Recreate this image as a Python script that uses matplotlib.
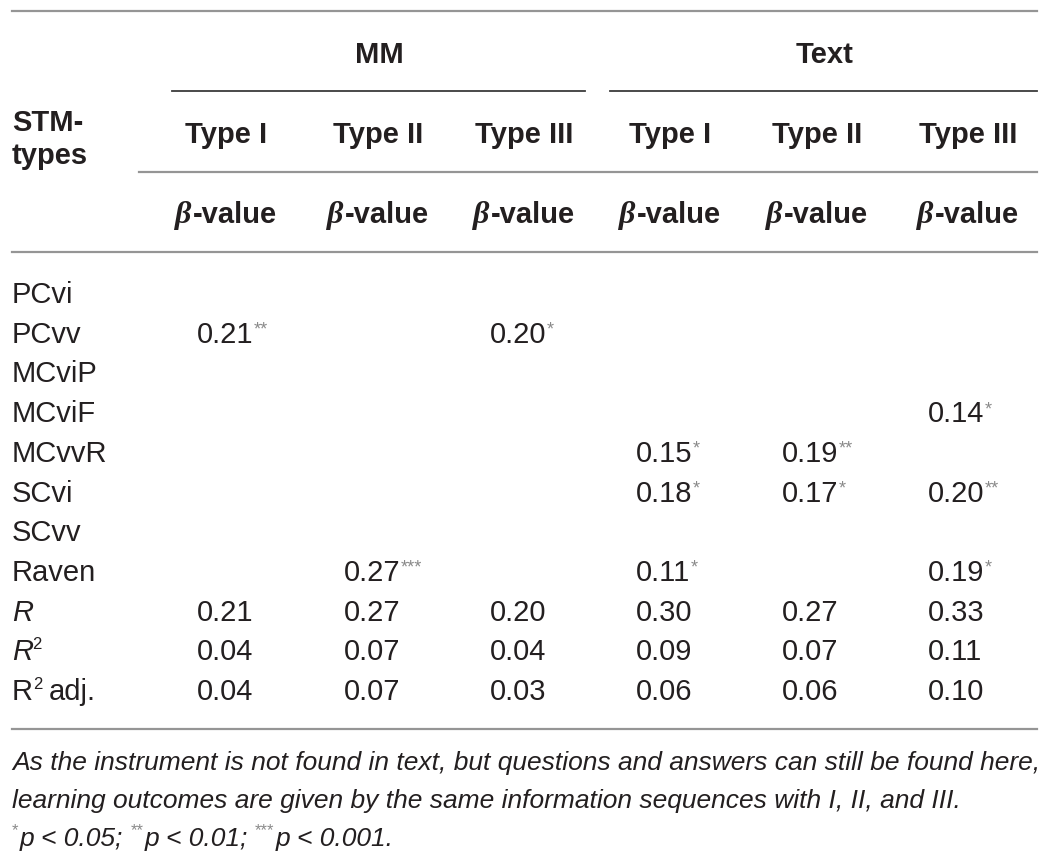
import matplotlib
matplotlib.use("Agg")
import matplotlib.pyplot as plt

# Table content
row_labels = ["PCvi", "PCvv", "MCviP", "MCviF", "MCvvR", "SCvi", "SCvv", "Raven", "R", "R2", "R2adj"]
group_labels = ["MM", "Text"]
type_labels = ["Type I", "Type II", "Type III", "Type I", "Type II", "Type III"]

# values with significance stars appended
mm_type_i = ["", "0.21**", "", "", "", "", "", "", "0.21", "0.04", "0.04"]
mm_type_ii = ["", "", "", "", "", "", "", "0.27***", "0.27", "0.07", "0.07"]
mm_type_iii = ["", "0.20*", "", "", "", "", "", "", "0.20", "0.04", "0.03"]
text_type_i = ["", "", "", "", "0.15*", "0.18*", "", "0.11*", "0.30", "0.09", "0.06"]
text_type_ii = ["", "", "", "", "0.19**", "0.17*", "", "", "0.27", "0.07", "0.06"]
text_type_iii = ["", "", "", "0.14*", "", "0.20**", "", "0.19*", "0.33", "0.11", "0.10"]
columns = [mm_type_i, mm_type_ii, mm_type_iii, text_type_i, text_type_ii, text_type_iii]

note_1 = "As the instrument is not found in text, but questions and answers can still be found here,"
note_2 = "learning outcomes are given by the same information sequences with I, II, and III."
note_3 = [("*", "p < 0.05; "), ("**", "p < 0.01; "), ("***", "p < 0.001.")]

# layout (pixels; one data unit = one pixel)
W, H = 1049, 860
col_centers = [226, 378, 524, 670, 817, 968]
col_left = [197, 344, 490, 636, 782, 928]
label_x = 12
row_base0, row_step = 303, 39.7
FS = 21
INK = "#231f20"
RULE = "#959595"
STAR = "#8a8a8a"
plt.rcParams["font.family"] = ["Liberation Sans", "DejaVu Sans"]

fig = plt.figure(figsize=(W / 100, H / 100), dpi=100)
ax = fig.add_axes([0, 0, 1, 1])
ax.set_xlim(0, W)
ax.set_ylim(H, 0)
ax.axis("off")
renderer = fig.canvas.get_renderer()


def width(t):
    return t.get_window_extent(renderer).width


def put(x, y, s, **kw):
    kw.setdefault("fontsize", FS)
    kw.setdefault("color", INK)
    return ax.text(x, y, s, ha=kw.pop("ha", "left"), va="baseline", **kw)


# rules
ax.plot([12, 1037], [11, 11], color=RULE, lw=1.6)
ax.plot([172, 585], [91, 91], color="#3c3c3c", lw=1.3)
ax.plot([610, 1037], [91, 91], color="#3c3c3c", lw=1.3)
ax.plot([139, 1037], [172, 172], color=RULE, lw=1.6)
ax.plot([12, 1037], [252, 252], color=RULE, lw=1.6)
ax.plot([12, 1037], [729, 729], color=RULE, lw=1.6)

# headers
put(379, 63, group_labels[0], ha="center", fontweight="bold")
put(825, 63, group_labels[1], ha="center", fontweight="bold")
put(label_x, 131, "STM-", fontweight="bold")
put(label_x, 164, "types", fontweight="bold")
for cx, lab in zip(col_centers, type_labels):
    put(cx, 143, lab, ha="center", fontweight="bold")

for cx in col_centers:
    b = put(0, 223, "\u03b2", fontsize=FS + 2, family="Liberation Serif",
            fontweight="bold", fontstyle="italic")
    v = put(0, 223, "-value", fontweight="bold")
    wb, wv = width(b), width(v)
    x0 = cx - (wb + wv + 1) / 2
    b.set_x(x0)
    v.set_x(x0 + wb + 1)

# row labels
for i, lab in enumerate(row_labels):
    y = row_base0 + i * row_step
    if lab == "R":
        put(label_x, y, "R", fontstyle="italic")
    elif lab == "R2":
        t = put(label_x, y, "R", fontstyle="italic")
        put(label_x + width(t) - 1, y - 11, "2", fontsize=12)
    elif lab == "R2adj":
        t = put(label_x, y, "R")
        s = put(label_x + width(t), y - 11, "2", fontsize=12)
        put(label_x + width(t) + width(s) + 6, y, "adj.")
    else:
        put(label_x, y, lab)

# cell values
for x0, col in zip(col_left, columns):
    for i, val in enumerate(col):
        if not val:
            continue
        num = val.rstrip("*")
        stars = val[len(num):]
        y = row_base0 + i * row_step
        t = put(x0, y, num)
        if stars:
            put(x0 + width(t), y - 8, stars, fontsize=13, color=STAR)

# footnote
NFS = 19
put(label_x, 770, note_1, fontsize=NFS, fontstyle="italic")
put(label_x, 808, note_2, fontsize=NFS, fontstyle="italic")
x = label_x
for stars, txt in note_3:
    st = put(x, 835, stars, fontsize=12, color=STAR)
    x += width(st) + 1
    p = put(x, 846, txt, fontsize=NFS, fontstyle="italic")
    x += width(p)

fig.savefig("out.png", dpi=100)
